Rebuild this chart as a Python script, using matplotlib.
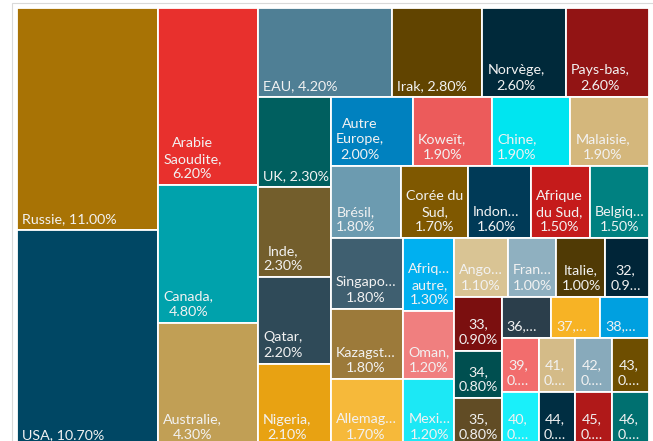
import matplotlib
matplotlib.use("Agg")
import matplotlib.pyplot as plt
from matplotlib.patches import Rectangle
from matplotlib.font_manager import FontProperties

# ---------------- data ----------------
countries = ["Russie", "USA", "Arabie Saoudite", "Canada", "Australie",
             "EAU", "Irak", "Norvège", "Pays-bas",
             "UK", "Inde", "Qatar", "Nigeria",
             "Autre Europe", "Koweït", "Chine", "Malaisie",
             "Brésil", "Corée du Sud", "Indonésie", "Afrique du Sud", "Belgique",
             "Singapour", "Kazagstan", "Allemagne",
             "Afrique autre", "Oman", "Mexique",
             "Angola", "France", "Italie", "32",
             "33", "34", "35",
             "36", "37", "38",
             "39", "40",
             "41", "42", "43",
             "44", "45", "46"]
shares = [11.0, 10.7, 6.2, 4.8, 4.3,
          4.2, 2.8, 2.6, 2.6,
          2.3, 2.3, 2.2, 2.1,
          2.0, 1.9, 1.9, 1.9,
          1.8, 1.7, 1.6, 1.5, 1.5,
          1.8, 1.8, 1.7,
          1.3, 1.2, 1.2,
          1.1, 1.0, 1.0, 0.9,
          0.9, 0.8, 0.8,
          0.7, 0.7, 0.7,
          0.7, 0.7,
          0.7, 0.7, 0.7,
          0.7, 0.7, 0.7]

# ---------------- style ----------------
palette = ["#A87305", "#004764", "#E8302D", "#00A2AC", "#C19F55",
           "#4F7F95", "#614400", "#00293A", "#921414",
           "#005F5F", "#735E2C", "#2F4A58", "#E8A212",
           "#0081BF", "#EC5B5B", "#00E5F0", "#D4B77C",
           "#6C9BB0", "#7F5800", "#003A57", "#C51B1B", "#008181",
           "#3F5F70", "#9C7A3A", "#F6B93A",
           "#00B0F0", "#F07F7F", "#1CE8F5",
           "#D9C494", "#8FB0C0", "#503A05", "#002538",
           "#7B0F0F", "#004F50", "#614C25",
           "#2B3E4B", "#F7B325", "#00A0E0",
           "#F26D6D", "#19F0FA",
           "#D4BB88", "#88AABB", "#6E4E00",
           "#002E42", "#B01919", "#007070"]

# strip plan of the layout: (number of tiles, direction of the strip)
plan = [(2, "col"), (3, "col"), (4, "row"), (4, "col"), (4, "row"), (5, "row"),
        (3, "col"), (3, "col"), (4, "row"), (3, "col"), (3, "row"), (2, "col"),
        (3, "row"), (3, "row")]

FIG_W, FIG_H = 653, 441
LEFT, TOP, AREA_W, AREA_H = 17, 8, 632, 438

# approximate Calibri advance widths (fraction of em), used to decide
# label wrapping / truncation the way the original software did
CAL = {
    "0": .507, "1": .507, "2": .507, "3": .507, "4": .507, "5": .507,
    "6": .507, "7": .507, "8": .507, "9": .507,
    " ": .226, ",": .250, ".": .252, "%": .715, "-": .306, "…": .690,
    "a": .479, "b": .525, "c": .423, "d": .525, "e": .498, "f": .305,
    "g": .471, "h": .525, "i": .229, "j": .239, "k": .455, "l": .229,
    "m": .799, "n": .525, "o": .527, "p": .525, "q": .525, "r": .349,
    "s": .391, "t": .335, "u": .525, "v": .452, "w": .715, "x": .433,
    "y": .453, "z": .395, "é": .498, "è": .498, "ï": .229,
    "A": .579, "B": .544, "C": .533, "D": .615, "E": .488, "F": .459,
    "G": .631, "H": .623, "I": .252, "J": .319, "K": .520, "L": .420,
    "M": .855, "N": .646, "O": .662, "P": .517, "Q": .673, "R": .543,
    "S": .459, "T": .487, "U": .642, "V": .567, "W": .890, "X": .519,
    "Y": .487, "Z": .468,
}
EM_PX = 15.5
PAD_W = 8.4
LINE_H = 18.0


def strip_layout(vals, plan, W, H):
    rects = []
    scale = W * H / sum(vals)
    x, y, w, h = 0.0, 0.0, float(W), float(H)
    i = 0
    for n, orient in plan:
        group = vals[i:i + n]
        area = sum(group) * scale
        if orient == "col":
            sw = area / h
            yy = y
            for v in group:
                hh = v * scale / sw
                rects.append((x, yy, sw, hh))
                yy += hh
            x += sw
            w -= sw
        else:
            sh = area / w
            xx = x
            for v in group:
                ww = v * scale / sh
                rects.append((xx, y, ww, sh))
                xx += ww
            y += sh
            h -= sh
        i += n
    return rects


def tw(s):
    return sum(CAL.get(c, 0.5) for c in s) * EM_PX


def fit_word(word, avail):
    if tw(word) <= avail:
        return word
    for k in range(len(word) - 1, 0, -1):
        cand = word[:k] + "…"
        if tw(cand) <= avail:
            return cand
    return "…"


def make_label(name, val, w, h):
    avail = w - PAD_W
    max_lines = max(1, int((h - 6) // LINE_H))
    tokens = (name + ",").split(" ") + [f"{val:.2f}%"]
    lines = []
    cur = ""
    for t in tokens:
        trial = t if cur == "" else cur + " " + t
        if tw(trial) <= avail:
            cur = trial
        else:
            if cur:
                lines.append(cur)
            cur = fit_word(t, avail)
    if cur:
        lines.append(cur)
    if len(lines) > max_lines:
        lines = lines[:max_lines]
        last = lines[-1]
        if tw(last + "…") <= avail:
            lines[-1] = last + "…"
        else:
            lines[-1] = fit_word(last, avail)
            if not lines[-1].endswith("…"):
                lines[-1] = lines[-1] + "…"
    return "\n".join(lines)


fig = plt.figure(figsize=(FIG_W / 100, FIG_H / 100), dpi=100)
fig.patch.set_facecolor("white")

# faint chart-area border
fig.add_artist(Rectangle((12 / FIG_W, -0.1), 1.2, (441 - 3) / FIG_H + 0.1,
                         transform=fig.transFigure, fill=False,
                         edgecolor="#D9D9D9", linewidth=0.8))

ax = fig.add_axes([LEFT / FIG_W, (FIG_H - (TOP + AREA_H)) / FIG_H,
                   AREA_W / FIG_W, AREA_H / FIG_H])
ax.set_xlim(0, AREA_W)
ax.set_ylim(AREA_H, 0)
ax.axis("off")

rects = strip_layout(shares, plan, AREA_W, AREA_H)

fp = FontProperties(family="Lato", size=10.3)

for (x, y, w, h), name, val, col in zip(rects, countries, shares, palette):
    ax.add_patch(Rectangle((x, y), w, h, facecolor=col, edgecolor="white",
                           linewidth=1.3))
    lab = make_label(name, val, w, h)
    ax.text(x + 5, y + h - 5, lab, ha="left", va="bottom",
            multialignment="center", color="#F2F2F2", fontproperties=fp,
            linespacing=1.35)

fig.savefig("out.png", dpi=100, facecolor="white")
